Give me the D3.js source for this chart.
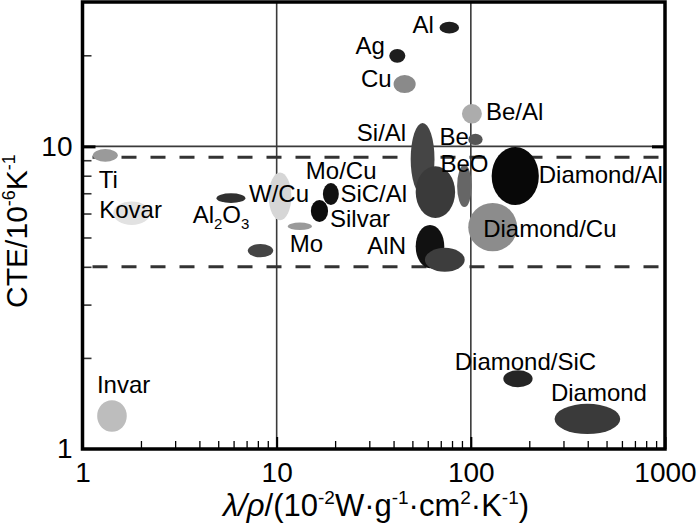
<!DOCTYPE html>
<html><head><meta charset="utf-8">
<script src="https://cdn.jsdelivr.net/npm/d3@7"></script>
<style>
body{margin:0;background:#fff}
svg{display:block}
text{font-family:"Liberation Sans",Arial,Helvetica,sans-serif;fill:#000}
</style>
</head><body>
<svg id="c" width="700" height="532"></svg>
<script>
// ---------- data ----------
const materials = ["Ti","Kovar","Invar","Al2O3","","W/Cu","Mo","Mo/Cu","Silvar","Si/Al","SiC/Al","BeO","AlN","","Be","Be/Al","Al","Ag","Cu","Diamond/Cu","Diamond/Al","Diamond/SiC","Diamond"];
// specific thermal conductivity range, 10^-2 W g^-1 cm^2 K^-1
const kMin   = [1.13,1.44,1.19,4.9,7.1, 9.1,11.4,17.3,15.0,49,52,85,52,58, 97, 90,69,38,40, 97,128,147,270];
const kMax   = [1.52,2.23,1.69,6.9,9.6,11.9,15.2,20.9,18.4,65,83,101,73,93,115,114,87,46,52,173,224,208,588];
// CTE range, 10^-6 K^-1
const cteMin = [8.9,5.5,1.14,6.5,4.3,5.7,5.29,6.4,5.63,6.9,5.8,6.3,3.96,3.85,10.1,11.9,23.6,18.9,15.0,4.5,6.4,1.60,1.12];
const cteMax = [9.8,6.57,1.45,7.0,4.76,8.2,5.6,7.57,6.65,11.95,8.6,8.7,5.5,4.62,11.0,13.8,25.8,21.0,17.2,6.5,9.95,1.82,1.41];
const xTickValues = [1,10,100,1000];
const yTickValues = [1,10];
const xMinorTicks = [2,3,4,5,6,7,8,9,20,30,40,50,60,70,80,90,200,300,400,500,600,700,800,900];
const yMinorTicks = [2,3,4,5,6,7,8,9,20];
const gridX = [10,100];
const gridY = [10];
const dashedY = [4.0,9.2];

// ---------- styles / layout ----------
const fills = ["#9a9a9a","#e2e2e2","#bdbdbd","#303030","#444","#d6d6d6","#9a9a9a","#111","#0d0d0d","#454545","#3a3a3a","#666","#111","#3d3d3d","#555","#acacac","#1e1e1e","#1e1e1e","#8a8a8a","#8c8c8c","#080808","#252525","#3a3a3a"];
// label anchor and offsets (px) from ellipse centre; dy = baseline offset
const labelLayout = {
  "Ti":["start",-6.5,33],"Kovar":["start",-32.5,5],"Invar":["start",-15,-22.6],
  "Al2O3":["start",-38.3,25.3],"W/Cu":["middle",-1,5.7],"Mo":["start",-10,25.4],
  "Mo/Cu":["start",-25,-14.7],"Silvar":["start",10.5,16.5],"Si/Al":["end",-16.4,-18],
  "SiC/Al":["end",-28.3,10],"BeO":["middle",0,-14.3],"AlN":["end",-24,7.5],
  "Be":["end",-6.5,6],"Be/Al":["start",14,6],"Al":["end",-15.5,5],
  "Ag":["end",-12.5,-1.3],"Cu":["end",-13,3],"Diamond/Cu":["start",-9.5,9.5],
  "Diamond/Al":["start",23.5,7.3],"Diamond/SiC":["middle",7.5,-9.2],"Diamond":["middle",11.5,-18.2]
};

const svg = d3.select("#c");
const x = d3.scaleLog().domain([1,1000]).range([82.5,665]);
const y = d3.scaleLog().domain([1,30]).range([449,2]);

// grid lines
svg.append("g").selectAll("line").data(gridX).join("line")
  .attr("x1",d=>x(d)).attr("x2",d=>x(d)).attr("y1",y(30)).attr("y2",y(1))
  .attr("stroke","#3a3a3a").attr("stroke-width",1.6);
svg.append("g").selectAll("line").data(gridY).join("line")
  .attr("x1",x(1)).attr("x2",x(1000)).attr("y1",d=>y(d)).attr("y2",d=>y(d))
  .attr("stroke","#3a3a3a").attr("stroke-width",1.6);
svg.append("g").selectAll("line").data(dashedY).join("line")
  .attr("x1",x(1)+10).attr("x2",x(1000)-4).attr("y1",d=>y(d)).attr("y2",d=>y(d))
  .attr("stroke","#333").attr("stroke-width",3).attr("stroke-dasharray","15,14");

// ellipses
const rows = materials.map((m,i)=>({m,i,k0:kMin[i],k1:kMax[i],c0:cteMin[i],c1:cteMax[i]}));
svg.append("g").selectAll("ellipse").data(rows).join("ellipse")
  .attr("cx",d=>(x(d.k0)+x(d.k1))/2)
  .attr("cy",d=>(y(d.c0)+y(d.c1))/2)
  .attr("rx",d=>(x(d.k1)-x(d.k0))/2)
  .attr("ry",d=>(y(d.c0)-y(d.c1))/2)
  .attr("fill",d=>fills[d.i]);

// labels
const lab = svg.append("g").style("font-size","24px");
rows.filter(d=>d.m).forEach(d=>{
  const L = labelLayout[d.m];
  const cx=(x(d.k0)+x(d.k1))/2, cy=(y(d.c0)+y(d.c1))/2;
  const t = lab.append("text").attr("x",cx+L[1]).attr("y",cy+L[2]).attr("text-anchor",L[0]);
  if (d.m==="Al2O3"){
    t.append("tspan").text("Al");
    t.append("tspan").text("2").attr("font-size","15px").attr("dy",6);
    t.append("tspan").text("O").attr("dy",-6);
    t.append("tspan").text("3").attr("font-size","15px").attr("dy",6);
  } else t.text(d.m);
});

// minor ticks (inward)
svg.append("g").attr("transform",`translate(0,${y(1)})`)
  .call(d3.axisBottom(x).tickValues(xMinorTicks).tickSize(-8).tickFormat(""))
  .call(g=>g.select(".domain").remove())
  .selectAll("line").attr("stroke","#000").attr("stroke-width",1.3);
svg.append("g").attr("transform",`translate(${x(1)},0)`)
  .call(d3.axisLeft(y).tickValues(yMinorTicks).tickSize(-9).tickFormat(""))
  .call(g=>g.select(".domain").remove())
  .selectAll("line").attr("stroke","#333").attr("stroke-width",1.6);
// major ticks
svg.append("g").attr("transform",`translate(0,${y(1)})`)
  .call(d3.axisBottom(x).tickValues([10,100,1000]).tickSize(-12).tickFormat(""))
  .call(g=>g.select(".domain").remove())
  .selectAll("line").attr("stroke","#000").attr("stroke-width",2);
svg.append("g").attr("transform",`translate(${x(1)},0)`)
  .call(d3.axisLeft(y).tickValues([10]).tickSize(-13).tickFormat(""))
  .call(g=>g.select(".domain").remove())
  .selectAll("line").attr("stroke","#000").attr("stroke-width",3);
svg.append("g").attr("transform",`translate(${x(1000)},0)`)
  .call(d3.axisRight(y).tickValues([10]).tickSize(-13).tickFormat(""))
  .call(g=>g.select(".domain").remove())
  .selectAll("line").attr("stroke","#000").attr("stroke-width",3);

// frame
svg.append("rect").attr("x",x(1)).attr("y",y(30)).attr("width",x(1000)-x(1)).attr("height",y(1)-y(30))
  .attr("fill","none").attr("stroke","#000").attr("stroke-width",3.5);

// tick labels
svg.append("g").attr("transform",`translate(0,${y(1)})`)
  .call(d3.axisBottom(x).tickValues(xTickValues).tickSize(0).tickPadding(13).tickFormat(d3.format("d")))
  .call(g=>g.select(".domain").remove())
  .selectAll("text").style("font-size","28px").attr("font-family",null);
svg.append("g").attr("transform",`translate(${x(1)},0)`)
  .call(d3.axisLeft(y).tickValues(yTickValues).tickSize(0).tickPadding(10).tickFormat(d3.format("d")))
  .call(g=>g.select(".domain").remove())
  .selectAll("text").style("font-size","28px").attr("font-family",null);

// axis titles
const sup = (t,s,fs,up)=>{ t.append("tspan").text(s).attr("font-size",fs+"px").attr("dy",-up); };
const norm = (t,s,up)=>{ t.append("tspan").text(s).attr("dy",up); };
const xt = svg.append("text").attr("x",376).attr("y",516).attr("text-anchor","middle").style("font-size","31px");
xt.append("tspan").text("λ/ρ").attr("font-style","italic");
xt.append("tspan").text("/(10");
sup(xt,"-2",19,12); norm(xt,"W·g",12); sup(xt,"-1",19,12); norm(xt,"·cm",12); sup(xt,"2",19,12); norm(xt,"·K",12); sup(xt,"-1",19,12); norm(xt,")",12);

const yt = svg.append("text").attr("transform","translate(27,231) rotate(-90)").attr("text-anchor","middle").style("font-size","30px");
yt.append("tspan").text("CTE/10");
sup(yt,"-6",18,12); norm(yt,"K",12); sup(yt,"-1",18,12);
</script>
</body></html>
